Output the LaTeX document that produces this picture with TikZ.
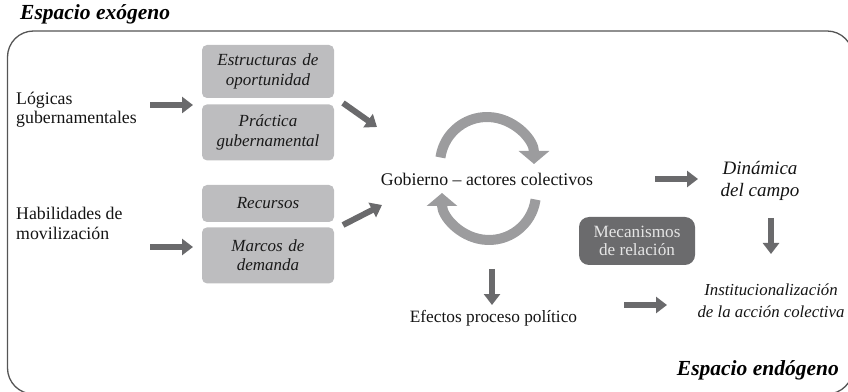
\documentclass[tikz,border=0pt]{standalone}
\usepackage{fontspec}
\setmainfont{Liberation Serif}
\usetikzlibrary{positioning,arrows.meta}
\definecolor{cajagris}{HTML}{BDBDBF}
\definecolor{flechagris}{HTML}{6A6A6C}
\definecolor{ciclogris}{HTML}{9C9C9E}
\definecolor{mecgris}{HTML}{6B6B6D}
\definecolor{marcogris}{HTML}{555555}
\begin{document}
\begin{tikzpicture}[x=1pt,y=1pt,line join=round,
	font=\fontsize{17.8}{19.5}\selectfont,
	texto/.style={inner sep=0pt,align=left,text=black!92},
	caja/.style={fill=cajagris,rounded corners=5pt,text width=124pt,align=center,
		inner sep=4pt,font=\fontsize{17}{19.5}\selectfont\itshape,text=black!90},
	flecha/.style={draw=flechagris,line width=6pt,-{Triangle[width=16pt,length=11pt]}},
	ciclo/.style={draw=ciclogris,line width=10pt,-{Triangle[width=30pt,length=13pt]}},
	titulo/.style={inner sep=0pt,font=\fontsize{21.5}{24}\selectfont\bfseries\itshape}]
	\def\rc{47}
	\useasboundingbox (0,0) rectangle (848,391);
	\draw[marcogris,line width=1.3pt,rounded corners=26pt] (7.5,-3) rectangle (853,360);
	\node[titulo,anchor=west] (exo) at (20,377) {Espacio exógeno};
	\node[titulo,anchor=east] (endo) at (839,21) {Espacio endógeno};
	\node[texto,anchor=west] (log) at (16,281.5) {Lógicas\\gubernamentales};
	\node[texto,anchor=west] (hab) at (16,167.5) {Habilidades de\\movilización};
	\node[caja,minimum height=53pt] (est) at (268,319.5) {Estructuras de\\oportunidad};
	\node[caja,minimum height=56pt,below=6pt of est] (pra) {Práctica\\gubernamental};
	\node[caja,minimum height=37pt] (rec) at (268,187.5) {Recursos};
	\node[caja,minimum height=56pt,below=5pt of rec] (mar) {Marcos de\\demanda};
	\node[texto] (gob) at (487,212) {Gobierno -- actores colectivos};
	\node[texto,align=center,font=\fontsize{19}{22}\selectfont\itshape] (din) at (760,210) {Dinámica\\del campo};
	\node[fill=mecgris,rounded corners=10pt,minimum width=116pt,minimum height=48pt,
		align=center,text=white!90!black,font=\fontsize{17.2}{17.5}\selectfont] (mec) at (637,150) {Mecanismos\\de relación};
	\node[texto,align=center,font=\fontsize{16.8}{22}\selectfont\itshape] (ins) at (771,90) {Institucionalización\\de la acción colectiva};
	\node[texto,font=\fontsize{17.3}{20}\selectfont] (efe) at (493.5,73) {Efectos proceso político};
	\path (487,227) coordinate (cs)
		(489,198) coordinate (ci)
		(150,286) coordinate (f1a)
		(193,286) coordinate (f1b)
		(150,144) coordinate (f2a)
		(193,144) coordinate (f2b)
		(343,288) coordinate (d1a)
		(377,264) coordinate (d1b)
		(343,166) coordinate (d2a)
		(382,186) coordinate (d2b)
		(655,212) coordinate (f3a)
		(698,212) coordinate (f3b)
		(771,173) coordinate (f4a)
		(771,137) coordinate (f4b)
		(492,122) coordinate (f5a)
		(492,86) coordinate (f5b)
		(624,86) coordinate (f6a)
		(667,86) coordinate (f6b);
	\draw[ciclo] ([shift={(172:\rc)}]cs) arc (172:0:\rc);
	\draw[ciclo] ([shift={(-8:\rc)}]ci) arc (-8:-180:\rc);
	\draw[flecha] (f1a)--(f1b);
	\draw[flecha] (f2a)--(f2b);
	\draw[flecha] (d1a)--(d1b);
	\draw[flecha] (d2a)--(d2b);
	\draw[flecha] (f3a)--(f3b);
	\draw[flecha] (f4a)--(f4b);
	\draw[flecha] (f5a)--(f5b);
	\draw[flecha] (f6a)--(f6b);
\end{tikzpicture}
\end{document}
